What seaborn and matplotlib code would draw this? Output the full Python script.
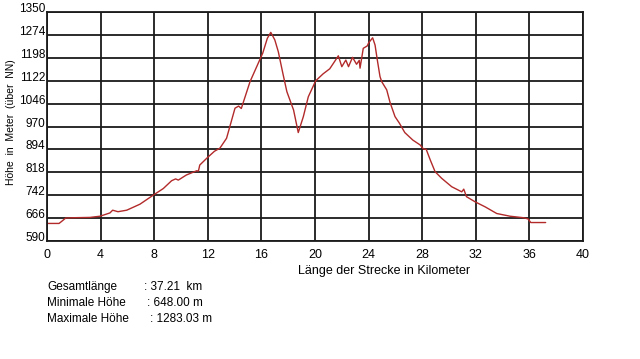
import numpy as np
import pandas as pd
import matplotlib
matplotlib.use("Agg")
import matplotlib.pyplot as plt
import seaborn as sns

# Hoehenprofil, Werte
km = [0.0, 0.9, 1.1, 1.4, 2.0, 3.2, 3.96, 4.7, 4.9, 5.3, 5.95, 6.94, 7.93,
      8.68, 9.3, 9.6, 9.8, 10.4, 11.17, 11.3, 11.4, 12.0, 12.5, 12.9, 13.4,
      14.03, 14.3, 14.5, 15.15, 15.65, 16.1, 16.44, 16.7, 17.0, 17.26, 17.6,
      17.9, 18.4, 18.75, 19.13, 19.5, 20.05, 20.6, 21.1, 21.37, 21.74, 22.0,
      22.3, 22.5, 22.8, 23.1, 23.3, 23.36, 23.5, 23.6, 23.9, 24.0, 24.3,
      24.48, 24.65, 24.85, 24.98, 25.35, 25.6, 25.97, 26.3, 26.7, 27.3, 27.84,
      28.08, 28.3, 28.6, 28.96, 29.45, 30.2, 30.95, 31.1, 31.3, 31.94, 32.7,
      33.56, 34.55, 35.55, 35.9, 36.1, 37.21]
hoehe = [648, 648, 655, 666, 667, 668, 672, 683, 692, 687, 692, 712, 742,
         764, 790, 796, 792, 809, 823, 822, 842, 868, 888, 898, 931,
         1031, 1038, 1030, 1119, 1169, 1214, 1263, 1283, 1258, 1219, 1147,
         1086, 1025, 950, 1003, 1069, 1122, 1145, 1162, 1180, 1205, 1169,
         1191, 1169, 1200, 1177, 1190, 1164, 1202, 1230, 1238, 1248, 1265,
         1241, 1191, 1136, 1119, 1092, 1050, 1003, 981, 950, 925, 909,
         896, 894, 859, 820, 798, 770, 753, 762, 737, 720, 703,
         681, 672, 667, 663, 651, 651]

x_ticks = [0, 4, 8, 12, 16, 20, 24, 28, 32, 36, 40]
y_ticks = [590, 666, 742, 818, 894, 970, 1046, 1122, 1198, 1274, 1350]

stat_labels = ["Gesamtlänge", "Minimale Höhe", "Maximale Höhe"]
stat_values = [": 37.21  km", ": 648.00 m", ": 1283.03 m"]

df = pd.DataFrame({"km": km, "hoehe": hoehe})

sns.set_style("white")
plt.rcParams["font.family"] = ["Liberation Sans", "DejaVu Sans"]
plt.rcParams["text.color"] = "black"
plt.rcParams["xtick.color"] = "black"
plt.rcParams["ytick.color"] = "black"

fig = plt.figure(figsize=(6.4, 3.59), dpi=100)
ax = fig.add_axes([0.0734, 0.329, 0.8376, 0.637])

sns.lineplot(data=df, x="km", y="hoehe", color="#b22a2a", lw=1.0, ax=ax)

ax.set_xlim(0, 40)
ax.set_ylim(590, 1350)
ax.set_xticks(x_ticks)
ax.set_yticks(y_ticks)
ax.set_xticklabels([str(t) for t in x_ticks], fontsize=9)
ax.set_yticklabels([str(t) for t in y_ticks], fontsize=8.5, va="baseline")
ax.tick_params(axis="both", length=0, pad=1, labelcolor="black")
ax.tick_params(axis="x", pad=6)
ax.grid(True, color="#1a1a1a", lw=1.3)
for s in ax.spines.values():
    s.set_color("#1a1a1a")
    s.set_linewidth(1.3)
ax.set_xlabel("")
ax.set_ylabel("")

fig.text(384 / 640, 1 - 271 / 359, "Länge der Strecke in Kilometer",
         ha="center", va="center", fontsize=9)
fig.text(11 / 640, 1 - 122 / 359, "Höhe  in  Meter  (über  NN)",
         rotation=90, ha="center", va="center", fontsize=7.5)

ys = [287, 303, 319]
xs = [144, 147, 150]
for lab, val, y, xv in zip(stat_labels, stat_values, ys, xs):
    fig.text(47 / 640, 1 - y / 359, lab, ha="left", va="center", fontsize=8.5)
    fig.text(xv / 640, 1 - y / 359, val, ha="left", va="center", fontsize=8.5)

fig.savefig("out.png", dpi=100)
plt.close()
